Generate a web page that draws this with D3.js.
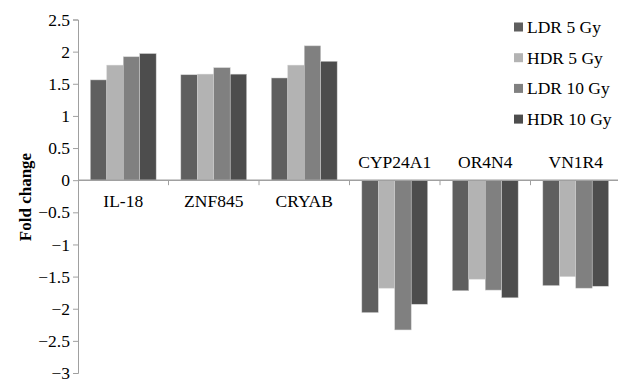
<!DOCTYPE html>
<html><head><meta charset="utf-8">
<script src="https://cdnjs.cloudflare.com/ajax/libs/d3/7.8.5/d3.min.js"></script>
<style>body{margin:0;background:#fff}svg{display:block}</style>
</head><body>
<script>
const categories = ["IL-18","ZNF845","CRYAB","CYP24A1","OR4N4","VN1R4"];
const seriesNames = ["LDR 5 Gy","HDR 5 Gy","LDR 10 Gy","HDR 10 Gy"];
const ldr5  = [1.56, 1.64, 1.59, -2.06, -1.72, -1.64];
const hdr5  = [1.79, 1.65, 1.79, -1.68, -1.54, -1.50];
const ldr10 = [1.92, 1.75, 2.09, -2.33, -1.71, -1.68];
const hdr10 = [1.97, 1.65, 1.85, -1.93, -1.83, -1.65];
const seriesValues = [ldr5, hdr5, ldr10, hdr10];
const colors = ["#5f5f5f","#b3b3b3","#808080","#4d4d4d"];
const yTicks = [2.5,2,1.5,1,0.5,0,-0.5,-1,-1.5,-2,-2.5,-3];

const W=618,H=379;
const svg=d3.select("body").append("svg").attr("width",W).attr("height",H);
const font="'Liberation Serif','Times New Roman',serif";
const x0=78, catW=90.5;
const x=d3.scaleBand().domain(categories).range([x0,x0+catW*categories.length]).paddingInner(0).paddingOuter(0);
const y=d3.scaleLinear().domain([-3,2.5]).range([373,19.5]);
const xb=d3.scaleBand().domain(d3.range(4)).range([0,x.bandwidth()]).paddingInner(0).paddingOuter(0.75/5.5*5.5/4*0+0);
// group occupies 4/5.5 of category, centered
const barW=x.bandwidth()/5.5;

// bars
seriesValues.forEach((vals,si)=>{
  svg.append("g").selectAll("rect").data(vals).join("rect")
    .attr("x",(d,i)=>x(categories[i])+barW*0.75+si*barW)
    .attr("width",barW)
    .attr("y",d=>y(Math.max(0,d)))
    .attr("height",d=>Math.abs(y(d)-y(0)))
    .attr("fill",colors[si])
    .attr("stroke","#d0d0d0").attr("stroke-width",0.5);
});

// y axis
const yAxis=d3.axisLeft(y).tickValues(yTicks).tickSize(5).tickPadding(3)
  .tickFormat(d=>d3.format("")(Math.abs(d)).replace(/^/, d<0?"\u2212":""));
const gy=svg.append("g").attr("transform",`translate(${x0},0)`).call(yAxis);
gy.select(".domain").attr("stroke","#a0a0a0");
gy.selectAll(".tick line").attr("stroke","#a0a0a0");
gy.selectAll(".tick text").attr("font-family",font).attr("font-size",17.5).attr("fill","#000");

// x axis line at zero
const gx=svg.append("g").attr("transform",`translate(0,${y(0)})`);
gx.append("line").attr("x1",x0).attr("x2",x0+catW*categories.length).attr("stroke","#a0a0a0").attr("stroke-width",1.5);
gx.selectAll("line.t").data(categories.slice(1)).join("line").attr("class","t")
  .attr("x1",d=>x(d)).attr("x2",d=>x(d)).attr("y1",0).attr("y2",5).attr("stroke","#a0a0a0");

// category labels
svg.append("g").selectAll("text").data(categories).join("text")
  .attr("x",d=>x(d)+x.bandwidth()/2)
  .attr("y",(d,i)=>ldr5[i]>=0? y(0)+27 : y(0)-12)
  .attr("text-anchor","middle").attr("font-family",font).attr("font-size",17.5).attr("fill","#000")
  .text(d=>d);

// y title
svg.append("text").attr("transform","translate(31,197) rotate(-90)")
  .attr("text-anchor","middle").attr("font-family",font).attr("font-weight","bold").attr("font-size",17)
  .text("Fold change");

// legend
const lg=svg.append("g").selectAll("g").data(seriesNames).join("g")
  .attr("transform",(d,i)=>`translate(514,${27+i*30.7})`);
lg.append("rect").attr("x",0).attr("y",-4.5).attr("width",9).attr("height",9).attr("fill",(d,i)=>colors[i]);
lg.append("text").attr("x",13).attr("y",6).attr("font-family",font).attr("font-size",17.5).attr("fill","#000").text(d=>d);
</script>
</body></html>
